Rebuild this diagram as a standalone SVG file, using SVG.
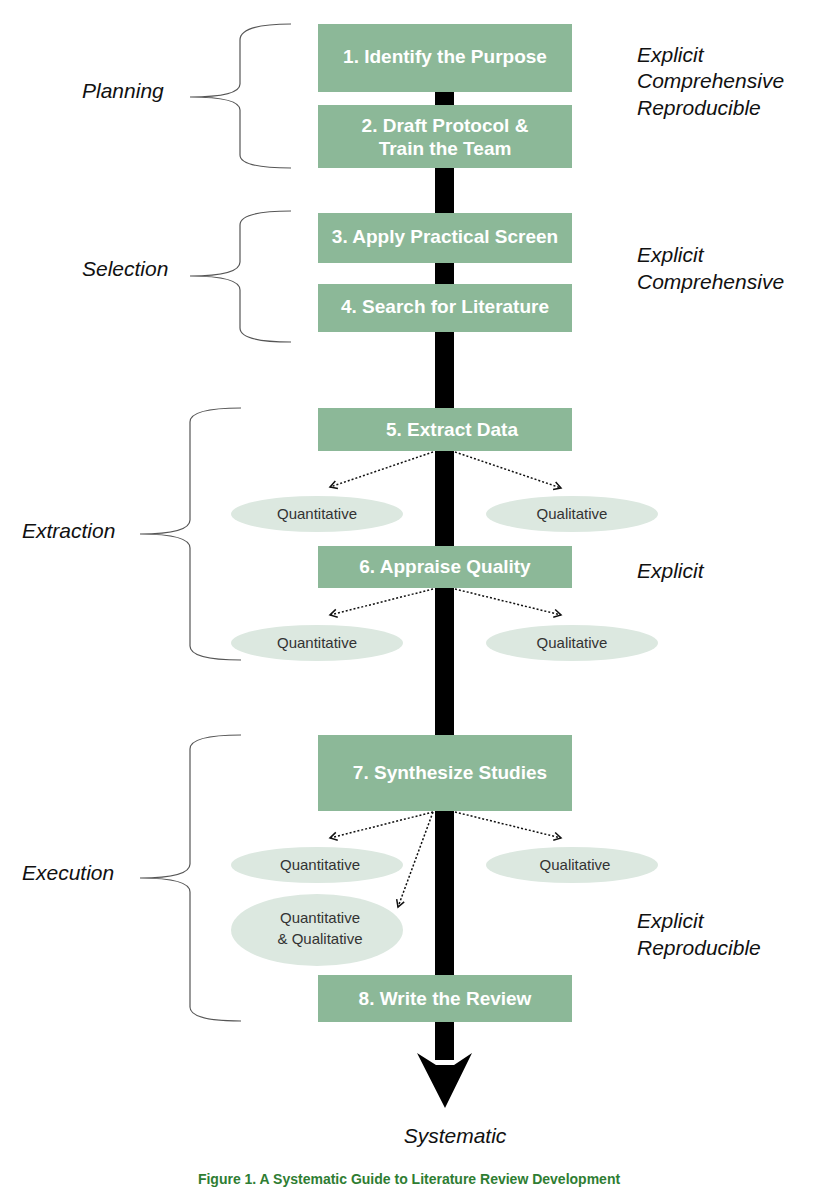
<svg xmlns="http://www.w3.org/2000/svg" width="817" height="1200" viewBox="0 0 817 1200">
<style>
.box{fill:#8cb898}
.bt{font-family:"Liberation Sans",Arial,sans-serif;font-weight:bold;font-size:19px;fill:#fff;text-anchor:middle}
.el{fill:#dce8e0}
.et{font-family:"Liberation Sans",Arial,sans-serif;font-size:15px;fill:#333;text-anchor:middle}
.it{font-family:"Liberation Sans",Arial,sans-serif;font-style:italic;font-size:21px;fill:#111}
.br{fill:none;stroke:#555;stroke-width:1.2}
.dot{stroke:#111;stroke-width:1.5;stroke-dasharray:2 2;fill:none;marker-end:url(#ah)}
</style>
<defs>
<marker id="ah" markerWidth="10" markerHeight="10" refX="8" refY="5" orient="auto" markerUnits="userSpaceOnUse">
<path d="M1,1 L8,5 L1,9" fill="none" stroke="#111" stroke-width="1.5"/>
</marker>
</defs>
<rect width="817" height="1200" fill="#fff"/>
<g id="spine">
<rect x="435" y="60" width="19" height="1000" fill="#000"/>
<polygon points="417,1053 436,1065 454,1065 472,1053 445,1108" fill="#000"/>
</g>
<g id="connectors">
<line class="dot" x1="433" y1="452" x2="330" y2="487"/>
<line class="dot" x1="455" y1="452" x2="561" y2="488"/>
<line class="dot" x1="433" y1="589" x2="330" y2="615"/>
<line class="dot" x1="455" y1="589" x2="561" y2="615"/>
<line class="dot" x1="433" y1="812" x2="330" y2="838"/>
<line class="dot" x1="455" y1="812" x2="561" y2="838"/>
<line class="dot" x1="433" y1="812" x2="398" y2="907"/>
</g>
<g id="n1"><rect class="box" x="318" y="24" width="254" height="68"/><text class="bt" x="445" y="63">1. Identify the Purpose</text></g>
<g id="n2"><rect class="box" x="318" y="105" width="254" height="63"/><text class="bt" x="445" y="132">2. Draft Protocol &amp;</text><text class="bt" x="445" y="155">Train the Team</text></g>
<g id="n3"><rect class="box" x="318" y="213" width="254" height="50"/><text class="bt" x="445" y="243">3. Apply Practical Screen</text></g>
<g id="n4"><rect class="box" x="318" y="284" width="254" height="48"/><text class="bt" x="445" y="313">4. Search for Literature</text></g>
<g id="n5"><rect class="box" x="318" y="408" width="254" height="43"/><text class="bt" x="452" y="436">5. Extract Data</text></g>
<g id="n6"><rect class="box" x="318" y="546" width="254" height="42"/><text class="bt" x="445" y="573">6. Appraise Quality</text></g>
<g id="n7"><rect class="box" x="318" y="735" width="254" height="76"/><text class="bt" x="450" y="779">7. Synthesize Studies</text></g>
<g id="n8"><rect class="box" x="318" y="975" width="254" height="47"/><text class="bt" x="445" y="1005">8. Write the Review</text></g>
<g id="e1"><ellipse class="el" cx="317" cy="514" rx="86" ry="18"/><text class="et" x="317" y="519">Quantitative</text></g>
<g id="e2"><ellipse class="el" cx="572" cy="514" rx="86" ry="18"/><text class="et" x="572" y="519">Qualitative</text></g>
<g id="e3"><ellipse class="el" cx="317" cy="643" rx="86" ry="18"/><text class="et" x="317" y="648">Quantitative</text></g>
<g id="e4"><ellipse class="el" cx="572" cy="643" rx="86" ry="18"/><text class="et" x="572" y="648">Qualitative</text></g>
<g id="e5"><ellipse class="el" cx="317" cy="865" rx="86" ry="18"/><text class="et" x="320" y="870">Quantitative</text></g>
<g id="e6"><ellipse class="el" cx="572" cy="865" rx="86" ry="18"/><text class="et" x="575" y="870">Qualitative</text></g>
<g id="e7"><ellipse class="el" cx="317" cy="930" rx="86" ry="36"/><text class="et" x="320" y="923">Quantitative</text><text class="et" x="320" y="944">&amp; Qualitative</text></g>
<g id="braces">
<path class="br" d="M291,24 Q240,24 240,40 L240,84 Q240,97 190,97 Q240,97 240,110 L240,155 Q240,168 291,168"/>
<path class="br" d="M291,211 Q240,211 240,225 L240,262 Q240,276 190,276 Q240,276 240,290 L240,328 Q240,342 291,342"/>
<path class="br" d="M241,408 Q190,408 190,422 L190,520 Q190,534 140,534 Q190,534 190,548 L190,646 Q190,660 241,660"/>
<path class="br" d="M241,735 Q190,735 190,749 L190,864 Q190,878 140,878 Q190,878 190,892 L190,1007 Q190,1021 241,1021"/>
</g>
<g id="labels">
<text class="it" x="82" y="98">Planning</text>
<text class="it" x="82" y="276">Selection</text>
<text class="it" x="22" y="538">Extraction</text>
<text class="it" x="22" y="880">Execution</text>
<text class="it" x="637" y="62">Explicit</text>
<text class="it" x="637" y="88">Comprehensive</text>
<text class="it" x="637" y="115">Reproducible</text>
<text class="it" x="637" y="262">Explicit</text>
<text class="it" x="637" y="289">Comprehensive</text>
<text class="it" x="637" y="578">Explicit</text>
<text class="it" x="637" y="928">Explicit</text>
<text class="it" x="637" y="955">Reproducible</text>
<text class="it" x="455" y="1143" text-anchor="middle">Systematic</text>
<text x="409" y="1184" text-anchor="middle" font-family="Liberation Sans,Arial,sans-serif" font-weight="bold" font-size="14" fill="#2e7d32">Figure 1. A Systematic Guide to Literature Review Development</text>
</g>
</svg>
